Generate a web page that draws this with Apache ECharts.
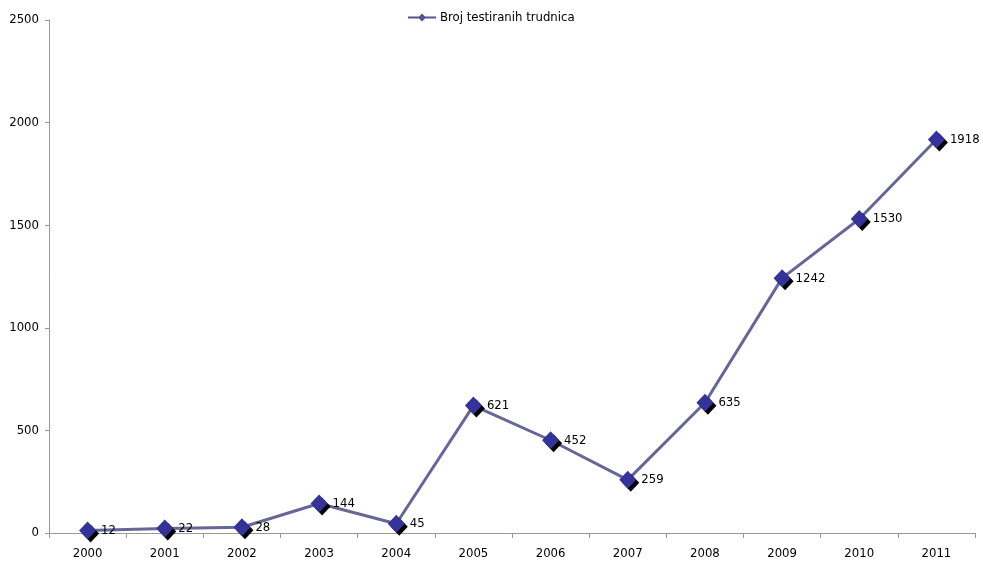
<!DOCTYPE html>
<html><head><meta charset="utf-8">
<script src="https://cdn.jsdelivr.net/npm/echarts@6/dist/echarts.min.js"></script>
<style>html,body{margin:0;padding:0;background:#fff}#c{width:983px;height:563px}</style>
</head><body><div id="c"></div>
<script>
const years = ['2000','2001','2002','2003','2004','2005','2006','2007','2008','2009','2010','2011'];
const seriesName = 'Broj testiranih trudnica';
const values = [12, 22, 28, 144, 45, 621, 452, 259, 635, 1242, 1530, 1918];
const chart = echarts.init(document.getElementById('c'));
const font = 'DejaVu Sans Condensed';
chart.setOption({
  animation: false,
  textStyle: {fontFamily: font},
  legend: {
    top: 6, left: 403, itemWidth: 28, itemHeight: 10, itemGap: 6,
    textStyle: {fontSize: 13, color: '#000', fontFamily: font, padding: [0,0,0,-1]},
    data: [{name: seriesName, icon: 'path://M0,4 L11,4 L14,1 L17,4 L28,4 L28,6 L17,6 L14,9 L11,6 L0,6 Z', itemStyle: {color: '#55558f'}}]
  },
  grid: {left: 49, right: 8, top: 20, bottom: 30, containLabel: false},
  xAxis: {
    type: 'category', data: years, boundaryGap: true,
    axisLine: {lineStyle: {color: '#999', width: 1}},
    axisTick: {show: true, inside: false, length: 5, lineStyle: {color: '#999'}},
    axisLabel: {color: '#000', fontSize: 13, margin: 14, fontFamily: font}
  },
  yAxis: {
    type: 'value', min: 0, max: 2500, interval: 500,
    axisLine: {show: true, lineStyle: {color: '#999', width: 1}},
    axisTick: {show: true, length: 4, lineStyle: {color: '#999'}},
    splitLine: {show: false},
    axisLabel: {color: '#000', fontSize: 13, margin: 10, fontFamily: font, formatter: v => String(v)}
  },
  series: [{
    name: seriesName, type: 'line', data: values,
    symbol: 'diamond', symbolSize: [17, 18],
    lineStyle: {color: '#666699', width: 3},
    itemStyle: {color: '#333399', shadowColor: '#000', shadowOffsetX: 3, shadowOffsetY: 3, shadowBlur: 0},
    label: {show: true, position: 'right', distance: 5, color: '#000', fontSize: 13, fontFamily: font},
    emphasis: {disabled: true}
  }]
});
</script></body></html>
